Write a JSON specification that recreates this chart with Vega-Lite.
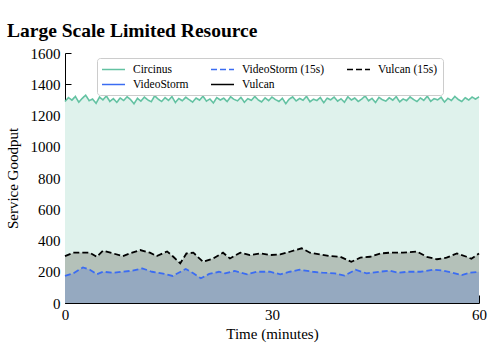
{
  "$schema": "https://vega.github.io/schema/vega-lite/v6.json",
  "autosize": {"type": "none"},
  "width": 414,
  "height": 250,
  "padding": {"left": 65, "top": 53, "right": 13, "bottom": 48},
  "config": {
    "font": "Liberation Serif",
    "view": {"stroke": null},
    "style": {"guide-label": {"font": "Liberation Serif"}, "guide-title": {"font": "Liberation Serif"}},
    "axis": {"grid": false, "domainColor": "#000", "tickColor": "#000", "labelColor": "#000", "titleColor": "#000", "labelFontSize": 15, "titleFontSize": 15, "titleFontWeight": "normal", "labelFont": "Liberation Serif", "titleFont": "Liberation Serif"},
    "legend": {"labelFont": "Liberation Serif", "labelFontSize": 11.5, "labelColor": "#000"}
  },
  "title": {"text": "Large Scale Limited Resource", "anchor": "start", "frame": "group", "fontSize": 19.5, "fontWeight": "bold", "font": "Liberation Serif", "color": "#000", "dx": -58, "dy": 5, "offset": 10},
  "datasets": {
    "circ": [
      {"t":0,"v":1290},{"t":0.5,"v":1315},{"t":1,"v":1298},{"t":1.5,"v":1322},{"t":2,"v":1285},{"t":2.5,"v":1310},{"t":3,"v":1330},{"t":3.5,"v":1295},{"t":4,"v":1305},{"t":4.5,"v":1278},
      {"t":5,"v":1318},{"t":5.5,"v":1300},{"t":6,"v":1325},{"t":6.5,"v":1290},{"t":7,"v":1308},{"t":7.5,"v":1284},{"t":8,"v":1312},{"t":8.5,"v":1296},{"t":9,"v":1320},{"t":9.5,"v":1302},
      {"t":10,"v":1275},{"t":10.5,"v":1310},{"t":11,"v":1292},{"t":11.5,"v":1318},{"t":12,"v":1300},{"t":12.5,"v":1288},{"t":13,"v":1326},{"t":13.5,"v":1305},{"t":14,"v":1290},{"t":14.5,"v":1314},
      {"t":15,"v":1297},{"t":15.5,"v":1321},{"t":16,"v":1283},{"t":16.5,"v":1309},{"t":17,"v":1294},{"t":17.5,"v":1317},{"t":18,"v":1301},{"t":18.5,"v":1286},{"t":19,"v":1312},{"t":19.5,"v":1298},
      {"t":20,"v":1324},{"t":20.5,"v":1292},{"t":21,"v":1306},{"t":21.5,"v":1280},{"t":22,"v":1315},{"t":22.5,"v":1299},{"t":23,"v":1311},{"t":23.5,"v":1289},{"t":24,"v":1320},{"t":24.5,"v":1303},
      {"t":25,"v":1294},{"t":25.5,"v":1316},{"t":26,"v":1285},{"t":26.5,"v":1308},{"t":27,"v":1297},{"t":27.5,"v":1322},{"t":28,"v":1300},{"t":28.5,"v":1287},{"t":29,"v":1313},{"t":29.5,"v":1295},
      {"t":30,"v":1318},{"t":30.5,"v":1302},{"t":31,"v":1290},{"t":31.5,"v":1310},{"t":32,"v":1276},{"t":32.5,"v":1305},{"t":33,"v":1319},{"t":33.5,"v":1293},{"t":34,"v":1309},{"t":34.5,"v":1298},
      {"t":35,"v":1323},{"t":35.5,"v":1288},{"t":36,"v":1304},{"t":36.5,"v":1296},{"t":37,"v":1315},{"t":37.5,"v":1282},{"t":38,"v":1311},{"t":38.5,"v":1300},{"t":39,"v":1318},{"t":39.5,"v":1292},
      {"t":40,"v":1307},{"t":40.5,"v":1285},{"t":41,"v":1320},{"t":41.5,"v":1299},{"t":42,"v":1312},{"t":42.5,"v":1290},{"t":43,"v":1305},{"t":43.5,"v":1325},{"t":44,"v":1294},{"t":44.5,"v":1310},
      {"t":45,"v":1283},{"t":45.5,"v":1316},{"t":46,"v":1301},{"t":46.5,"v":1292},{"t":47,"v":1314},{"t":47.5,"v":1298},{"t":48,"v":1321},{"t":48.5,"v":1287},{"t":49,"v":1306},{"t":49.5,"v":1295},
      {"t":50,"v":1319},{"t":50.5,"v":1303},{"t":51,"v":1289},{"t":51.5,"v":1312},{"t":52,"v":1297},{"t":52.5,"v":1324},{"t":53,"v":1291},{"t":53.5,"v":1308},{"t":54,"v":1300},{"t":54.5,"v":1317},
      {"t":55,"v":1286},{"t":55.5,"v":1310},{"t":56,"v":1296},{"t":56.5,"v":1322},{"t":57,"v":1302},{"t":57.5,"v":1290},{"t":58,"v":1314},{"t":58.5,"v":1299},{"t":59,"v":1318},{"t":59.5,"v":1305},
      {"t":60,"v":1320}
    ],
    "vul": [
      {"t":0,"v":300},{"t":1.2,"v":322},{"t":2.6,"v":323},{"t":3.6,"v":322},{"t":4.6,"v":296},{"t":5.5,"v":335},{"t":7,"v":317},{"t":8.4,"v":300},{"t":9.4,"v":317},{"t":10.9,"v":339},
      {"t":12.3,"v":322},{"t":13.3,"v":300},{"t":14.8,"v":330},{"t":15.7,"v":296},{"t":16.7,"v":254},{"t":17.6,"v":317},{"t":18.6,"v":322},{"t":20,"v":264},{"t":21.5,"v":285},{"t":22.9,"v":322},
      {"t":23.9,"v":285},{"t":25.4,"v":322},{"t":26.8,"v":306},{"t":28.3,"v":317},{"t":29.7,"v":307},{"t":31.2,"v":311},{"t":32.6,"v":328},{"t":34.3,"v":350},{"t":35.5,"v":322},{"t":37,"v":311},
      {"t":38.4,"v":300},{"t":39.9,"v":296},{"t":41.5,"v":264},{"t":42.8,"v":290},{"t":44.2,"v":296},{"t":45.7,"v":317},{"t":47.1,"v":322},{"t":49,"v":322},{"t":51,"v":330},{"t":52.4,"v":296},
      {"t":53.9,"v":280},{"t":55.3,"v":290},{"t":56.8,"v":317},{"t":58.2,"v":296},{"t":58.9,"v":283},{"t":60,"v":317}
    ],
    "vs": [
      {"t":0,"v":173},{"t":1.2,"v":190},{"t":2.6,"v":228},{"t":3.6,"v":213},{"t":4.6,"v":184},{"t":5.5,"v":200},{"t":7,"v":194},{"t":8.4,"v":200},{"t":9.8,"v":207},{"t":11.2,"v":222},
      {"t":12.6,"v":200},{"t":14,"v":190},{"t":15.6,"v":173},{"t":17.5,"v":218},{"t":18.6,"v":190},{"t":19.7,"v":158},{"t":20.9,"v":186},{"t":22.3,"v":200},{"t":23.2,"v":190},{"t":24.6,"v":205},
      {"t":26.4,"v":184},{"t":27.8,"v":200},{"t":29.7,"v":200},{"t":31.2,"v":184},{"t":32.6,"v":200},{"t":34,"v":213},{"t":35.9,"v":200},{"t":37.3,"v":194},{"t":39.1,"v":190},{"t":40.5,"v":175},
      {"t":42.1,"v":213},{"t":43.7,"v":190},{"t":45.6,"v":200},{"t":47,"v":207},{"t":48.3,"v":194},{"t":49.7,"v":200},{"t":51.5,"v":200},{"t":53.4,"v":213},{"t":54.8,"v":207},{"t":56.1,"v":194},
      {"t":57.5,"v":179},{"t":58.7,"v":194},{"t":60,"v":200}
    ]
  },
  "encoding": {
    "x": {"field": "t", "type": "quantitative", "scale": {"domain": [0, 60], "nice": false}, "axis": {"values": [0, 30, 60], "format": "d", "title": "Time (minutes)", "tickSize": -8, "labelPadding": 12, "titlePadding": 4, "labelFlush": false, "labelFont": "Liberation Serif", "labelFontSize": 15}},
    "y": {"field": "v", "type": "quantitative", "scale": {"domain": [0, 1600], "nice": false}, "axis": {"values": [0,200,400,600,800,1000,1200,1400,1600], "format": "d", "title": "Service Goodput", "tickSize": -6, "labelPadding": 11, "titlePadding": 10, "labelFont": "Liberation Serif", "labelFontSize": 15}}
  },
  "layer": [
    {"data": {"name": "circ"}, "mark": {"type": "area", "color": "#dff2ec"}},
    {"data": {"name": "vul"}, "mark": {"type": "area", "color": "#b4c1b9"}},
    {"data": {"name": "vs"}, "mark": {"type": "area", "color": "#95a9c0"}},
    {"data": {"name": "circ"}, "mark": {"type": "line", "strokeWidth": 1.6},
     "encoding": {
       "color": {"datum": "Circinus", "type": "nominal",
         "scale": {"domain": ["Circinus", "VideoStorm", "VideoStorm (15s)", "Vulcan", "Vulcan (15s)"], "range": ["#63c2a2", "#3b6cf2", "#3b6cf2", "#000000", "#000000"]},
         "legend": {"title": null, "orient": "none", "legendX": 32, "legendY": 5, "columns": 3, "symbolType": "M-1.18,0H3", "symbolSize": 121, "symbolStrokeWidth": 1.6, "labelFont": "Liberation Serif", "labelFontSize": 11.5, "labelColor": "#000", "labelOffset": 18, "columnPadding": 18, "rowPadding": 3, "padding": 5, "strokeColor": "#cccccc", "fillColor": "#ffffff", "cornerRadius": 3,
           "encode": {"labels": {"update": {"font": {"value": "Liberation Serif"}, "fontSize": {"value": 11.5}}}}}},
       "strokeDash": {"datum": "Circinus", "type": "nominal",
         "scale": {"domain": ["Circinus", "VideoStorm", "VideoStorm (15s)", "Vulcan", "Vulcan (15s)"], "range": [[1,0],[1,0],[6,3],[1,0],[6,3]]},
         "legend": {"title": null, "orient": "none", "legendX": 32, "legendY": 5, "columns": 3, "symbolType": "M-1.18,0H3", "symbolSize": 121, "symbolStrokeWidth": 1.6, "labelFont": "Liberation Serif", "labelFontSize": 11.5, "labelColor": "#000", "labelOffset": 18, "columnPadding": 18, "rowPadding": 3, "padding": 5, "strokeColor": "#cccccc", "fillColor": "#ffffff", "cornerRadius": 3,
           "encode": {"labels": {"update": {"font": {"value": "Liberation Serif"}, "fontSize": {"value": 11.5}}}}}}
     }},
    {"data": {"name": "vul"}, "mark": {"type": "line", "strokeWidth": 1.8},
     "encoding": {"color": {"datum": "Vulcan (15s)", "type": "nominal"}, "strokeDash": {"datum": "Vulcan (15s)", "type": "nominal"}}},
    {"data": {"name": "vs"}, "mark": {"type": "line", "strokeWidth": 1.8},
     "encoding": {"color": {"datum": "VideoStorm (15s)", "type": "nominal"}, "strokeDash": {"datum": "VideoStorm (15s)", "type": "nominal"}}}
  ]
}
